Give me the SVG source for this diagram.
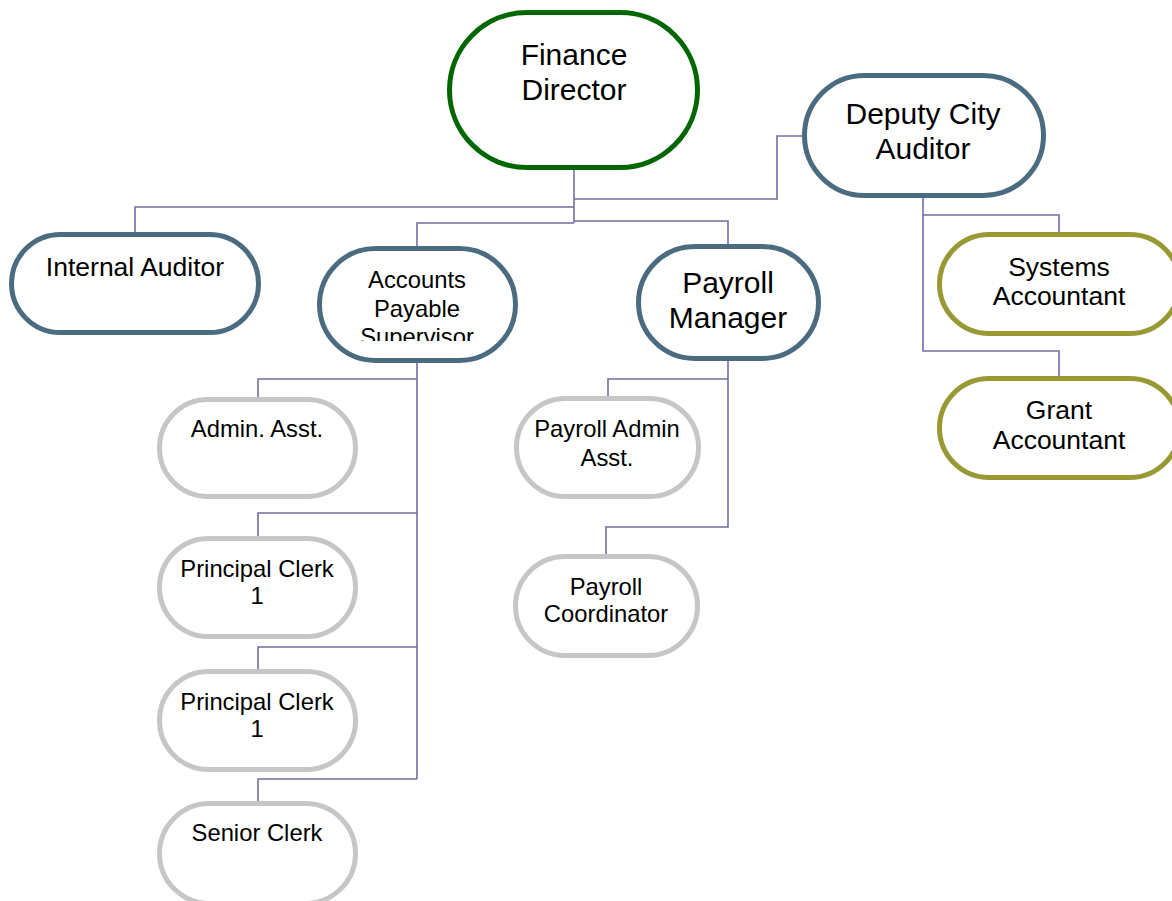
<svg xmlns="http://www.w3.org/2000/svg" width="1172" height="901" viewBox="0 0 1172 901">
  <style>
    .node { fill: #ffffff; stroke-width: 5; }
    .exec { stroke: #006600; }
    .lead { stroke: #4b6b80; }
    .acct { stroke: #999933; }
    .staff { stroke: #c6c6c6; }
    .wire { fill: none; stroke: #6f6fa3; stroke-width: 1.6; }
    text { font-family: "Liberation Sans", Arial, sans-serif; fill: #000000; text-anchor: middle; }
    .lg { font-size: 30px; }
    .md { font-size: 26.5px; }
    .sm { font-size: 23.8px; }
  </style>
  <defs>
    <clipPath id="apClip">
      <rect x="320" y="250" width="195" height="91"/>
    </clipPath>
  </defs>
  <rect width="1172" height="901" fill="#ffffff"/>

  <g id="connectors">
    <path class="wire" d="M574,170 V223"/>
    <path class="wire" d="M574,199 H777 V136 H802"/>
    <path class="wire" d="M574,207 H135 V233"/>
    <path class="wire" d="M574,223 H417 V247"/>
    <path class="wire" d="M574,221 H728 V245"/>
    <path class="wire" d="M417,362 V779"/>
    <path class="wire" d="M417,379 H258 V397"/>
    <path class="wire" d="M417,513 H258 V537"/>
    <path class="wire" d="M417,647 H258 V670"/>
    <path class="wire" d="M417,779 H258 V802"/>
    <path class="wire" d="M728,360 V527 H606 V555"/>
    <path class="wire" d="M728,379 H608 V397"/>
    <path class="wire" d="M923,198 V351 H1059 V377"/>
    <path class="wire" d="M923,215 H1059 V233"/>
  </g>

  <g id="finance-director">
    <rect class="node exec" x="449.5" y="12.5" width="248" height="155" rx="77.5"/>
    <text class="lg" x="574" y="65">Finance</text>
    <text class="lg" x="574" y="100">Director</text>
  </g>

  <g id="deputy-city-auditor">
    <rect class="node lead" x="804.5" y="75.5" width="239" height="120" rx="60"/>
    <text class="lg" x="923" y="124">Deputy City</text>
    <text class="lg" x="923" y="159">Auditor</text>
  </g>

  <g id="internal-auditor">
    <rect class="node lead" x="11.5" y="234.5" width="247" height="98" rx="49"/>
    <text class="md" x="135" y="276">Internal Auditor</text>
  </g>

  <g id="accounts-payable-supervisor">
    <rect class="node lead" x="319.5" y="248.5" width="196" height="112" rx="56"/>
    <g clip-path="url(#apClip)">
      <text class="sm" x="417" y="288">Accounts</text>
      <text class="sm" x="417" y="317">Payable</text>
      <text class="sm" x="417" y="345">Supervisor</text>
    </g>
  </g>

  <g id="payroll-manager">
    <rect class="node lead" x="638.5" y="246.5" width="180" height="112" rx="56"/>
    <text class="lg" x="728" y="293">Payroll</text>
    <text class="lg" x="728" y="328">Manager</text>
  </g>

  <g id="systems-accountant">
    <rect class="node acct" x="939.5" y="234.5" width="240" height="99" rx="49.5"/>
    <text class="md" x="1059" y="276">Systems</text>
    <text class="md" x="1059" y="305">Accountant</text>
  </g>

  <g id="grant-accountant">
    <rect class="node acct" x="939.5" y="378.5" width="240" height="99" rx="49.5"/>
    <text class="md" x="1059" y="419">Grant</text>
    <text class="md" x="1059" y="449">Accountant</text>
  </g>

  <g id="admin-asst">
    <rect class="node staff" x="159.5" y="399.5" width="196" height="97" rx="48.5"/>
    <text class="sm" x="257" y="437">Admin. Asst.</text>
  </g>

  <g id="principal-clerk-a">
    <rect class="node staff" x="159.5" y="538.5" width="196" height="98" rx="49"/>
    <text class="sm" x="257" y="577">Principal Clerk</text>
    <text class="sm" x="257" y="604">1</text>
  </g>

  <g id="principal-clerk-b">
    <rect class="node staff" x="159.5" y="671.5" width="196" height="98" rx="49"/>
    <text class="sm" x="257" y="710">Principal Clerk</text>
    <text class="sm" x="257" y="737">1</text>
  </g>

  <g id="senior-clerk">
    <rect class="node staff" x="159.5" y="803.5" width="196" height="100" rx="50"/>
    <text class="sm" x="257" y="841">Senior Clerk</text>
  </g>

  <g id="payroll-admin-asst">
    <rect class="node staff" x="516.5" y="398.5" width="182" height="98" rx="49"/>
    <text class="sm" x="607" y="437">Payroll Admin</text>
    <text class="sm" x="607" y="466">Asst.</text>
  </g>

  <g id="payroll-coordinator">
    <rect class="node staff" x="515.5" y="556.5" width="182" height="99" rx="49.5"/>
    <text class="sm" x="606" y="595">Payroll</text>
    <text class="sm" x="606" y="622">Coordinator</text>
  </g>
</svg>
